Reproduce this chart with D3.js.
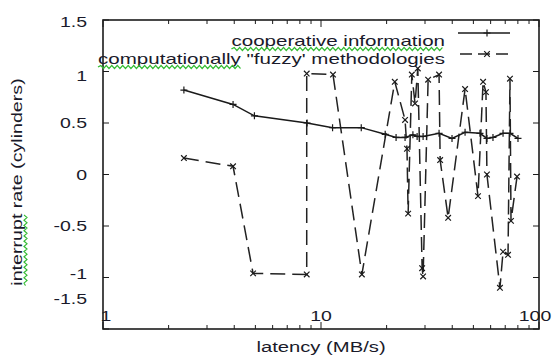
<!DOCTYPE html>
<html>
<head>
<meta charset="utf-8">
<script src="https://cdn.jsdelivr.net/npm/d3@7"></script>
<style>
  html, body { margin: 0; padding: 0; background: #fff; }
  svg { display: block; }
  text { font-family: "Liberation Sans", Arial, Helvetica, sans-serif; fill: #1a1a2a; }
</style>
</head>
<body>
<svg id="chart" width="555" height="358"></svg>
<script>
// ---- data ----
const seriesNames = ["cooperative information", "computationally \"fuzzy' methodologies"];
const coopX = [2.35, 3.95, 4.95, 8.63, 11.3, 15.3, 19.7, 22.1, 24.3, 26.4, 27.6, 29.4, 34.8, 39.9, 45.8, 53.6, 57.7, 61.5, 68.4, 73.6, 80.1];
const coopY = [0.82, 0.68, 0.57, 0.50, 0.455, 0.455, 0.39, 0.36, 0.36, 0.385, 0.37, 0.37, 0.40, 0.35, 0.41, 0.40, 0.35, 0.36, 0.40, 0.40, 0.35];
const fuzzyX = [2.35, 3.95, 4.88, 8.6, 8.6, 11.35, 15.4, 21.8, 24.3, 24.8, 25.1, 26.1, 27.0, 27.8, 29.1, 29.4, 31.0, 34.8, 35.2, 38.3, 45.8, 52.5, 55.4, 57.1, 57.7, 66.2, 68.4, 72.1, 73.6, 74.4, 79.3];
const fuzzyY = [0.16, 0.08, -0.96, -0.97, 0.98, 0.97, -0.97, 0.90, 0.53, 0.25, -0.38, 0.97, 0.69, 1.03, -0.91, -0.99, 0.92, 0.97, 0.14, -0.42, 0.83, -0.21, 0.90, 0.80, 0.0, -1.10, -0.75, -0.78, 0.93, -0.45, -0.02];
const yTickValues = [-1.5, -1, -0.5, 0, 0.5, 1, 1.5];
const yTickLabels = ["-1.5", "-1", "-0.5", "0", "0.5", "1", "1.5"];
const xTickValues = [1, 10, 100];
const xTickLabels = ["1", "10", "100"];
const xTitle = "latency (MB/s)";
const yTitle = "interrupt rate (cylinders)";

// ---- layout ----
const svg = d3.select("#chart");
const L = 103, R = 539, T = 20, B = 329;
const x = d3.scaleLog().domain([1, 100]).range([L, R]);
const y = d3.scaleLinear().domain([-1.5, 1.5]).range([B, T]);
const ink = "#1c1c1c";
const FS = 15;

function stext(parent, px, py, str, anchor, sx, rotate) {
  const g = parent.append("g")
    .attr("transform", `translate(${px},${py})` + (rotate ? ` rotate(${rotate})` : "") + ` scale(${sx},1)`);
  const t = g.append("text").attr("x", 0).attr("y", 0)
    .attr("text-anchor", anchor).attr("font-size", FS).text(str);
  return { g, t };
}

function squiggle(parent, x0, x1, yy) {
  let d = `M${x0},${yy}`;
  let up = true;
  for (let xx = x0 + 2; xx <= x1; xx += 2) {
    d += ` L${xx},${yy + (up ? -1.5 : 1.5)}`;
    up = !up;
  }
  parent.append("path").attr("d", d).attr("fill", "none")
    .attr("stroke", "#33bb33").attr("stroke-width", 1);
}

// ---- ticks ----
const tickG = svg.append("g").attr("stroke", ink).attr("stroke-width", 1);
const allX = x.ticks();
allX.forEach(v => {
  const major = Math.abs(Math.log10(v) - Math.round(Math.log10(v))) < 1e-9;
  const len = major ? 7 : 4;
  const px = x(v);
  tickG.append("line").attr("x1", px).attr("x2", px).attr("y1", B).attr("y2", B - len);
  tickG.append("line").attr("x1", px).attr("x2", px).attr("y1", T).attr("y2", T + len);
});
yTickValues.forEach(v => {
  const py = y(v);
  tickG.append("line").attr("x1", L).attr("x2", L + 6).attr("y1", py).attr("y2", py);
  tickG.append("line").attr("x1", R).attr("x2", R - 6).attr("y1", py).attr("y2", py);
});

// ---- tick labels ----
const labG = svg.append("g");
const yNudge = { "1.5": 2, "1": 4, "-1": -4, "-1.5": -30 };
yTickValues.forEach((v, i) => {
  const py = y(v) + (yNudge[yTickLabels[i]] || 0) + 5;
  stext(labG, 87, py, yTickLabels[i], "end", 1.3);
});
xTickValues.forEach((v, i) => {
  const dx = i === 0 ? 3 : (i === 2 ? -4 : 0);
  stext(labG, x(v) + dx, 321, xTickLabels[i], "middle", 1.3);
});

// ---- titles ----
stext(svg, (L + R) / 2, 352, xTitle, "middle", 1.35);
const yt = stext(svg, 22, 182, yTitle, "middle", 1.31, -90);
// spell-check squiggle under "interrupt" (rotated)
(function () {
  const g = yt.g.append("g");
  // in local (unrotated, unscaled) coords text spans approx -79..79
  const w = yt.t.node().getComputedTextLength();
  const startX = -w / 2;
  const word = "interrupt";
  const tmp = g.append("text").attr("font-size", FS).text(word);
  const ww = tmp.node().getComputedTextLength();
  tmp.remove();
  squiggle(g, startX, startX + ww, 3.5);
})();

// ---- frame ----
svg.append("rect").attr("x", L).attr("y", T).attr("width", R - L).attr("height", B - T)
  .attr("fill", "none").attr("stroke", ink).attr("stroke-width", 1.6);

// ---- series ----
const coop = coopX.map((v, i) => [v, coopY[i]]);
const fuzzy = fuzzyX.map((v, i) => [v, fuzzyY[i]]);
const line = d3.line().x(d => x(d[0])).y(d => y(d[1]));
const plotG = svg.append("g");

plotG.append("path").datum(fuzzy).attr("d", line).attr("fill", "none")
  .attr("stroke", "#222").attr("stroke-width", 1.5).attr("stroke-dasharray", "15,7");
plotG.append("path").datum(coop).attr("d", line).attr("fill", "none")
  .attr("stroke", "#1a1a1a").attr("stroke-width", 1.5);

function plus(g, px, py, s) {
  g.append("path").attr("d", `M${px - s},${py}H${px + s}M${px},${py - s}V${py + s}`)
    .attr("stroke", "#1a1a1a").attr("stroke-width", 1.2);
}
function cross(g, px, py, s) {
  g.append("path").attr("d", `M${px - s},${py - s}L${px + s},${py + s}M${px - s},${py + s}L${px + s},${py - s}`)
    .attr("stroke", "#1a1a1a").attr("stroke-width", 1.2);
}
coop.forEach(d => plus(plotG, x(d[0]), y(d[1]), 3.5));
fuzzy.forEach(d => cross(plotG, x(d[0]), y(d[1]), 2.8));

// ---- legend ----
const legG = svg.append("g");
const lx0 = 458, lx1 = 510, lm = 487;
legG.append("line").attr("x1", lx0).attr("x2", lx1).attr("y1", 33).attr("y2", 33)
  .attr("stroke", "#1a1a1a").attr("stroke-width", 1.5);
plus(legG, lm, 33, 3.5);
legG.append("line").attr("x1", lx0).attr("x2", lx1).attr("y1", 54).attr("y2", 54)
  .attr("stroke", "#222").attr("stroke-width", 1.5).attr("stroke-dasharray", "12,6").attr("stroke-dashoffset", -2);
cross(legG, lm, 54, 2.8);
const t1 = stext(legG, 445, 46, seriesNames[0], "end", 1.37);
const t2 = stext(legG, 445, 64, seriesNames[1], "end", 1.37);
(function () {
  const w1 = t1.t.node().getComputedTextLength();
  squiggle(t1.g, -w1, 0, 3);
  const w2 = t2.t.node().getComputedTextLength();
  const tmp = t2.g.append("text").attr("font-size", FS).text("computationally");
  const ww = tmp.node().getComputedTextLength();
  tmp.remove();
  squiggle(t2.g, -w2, -w2 + ww, 3);
})();
</script>
</body>
</html>
